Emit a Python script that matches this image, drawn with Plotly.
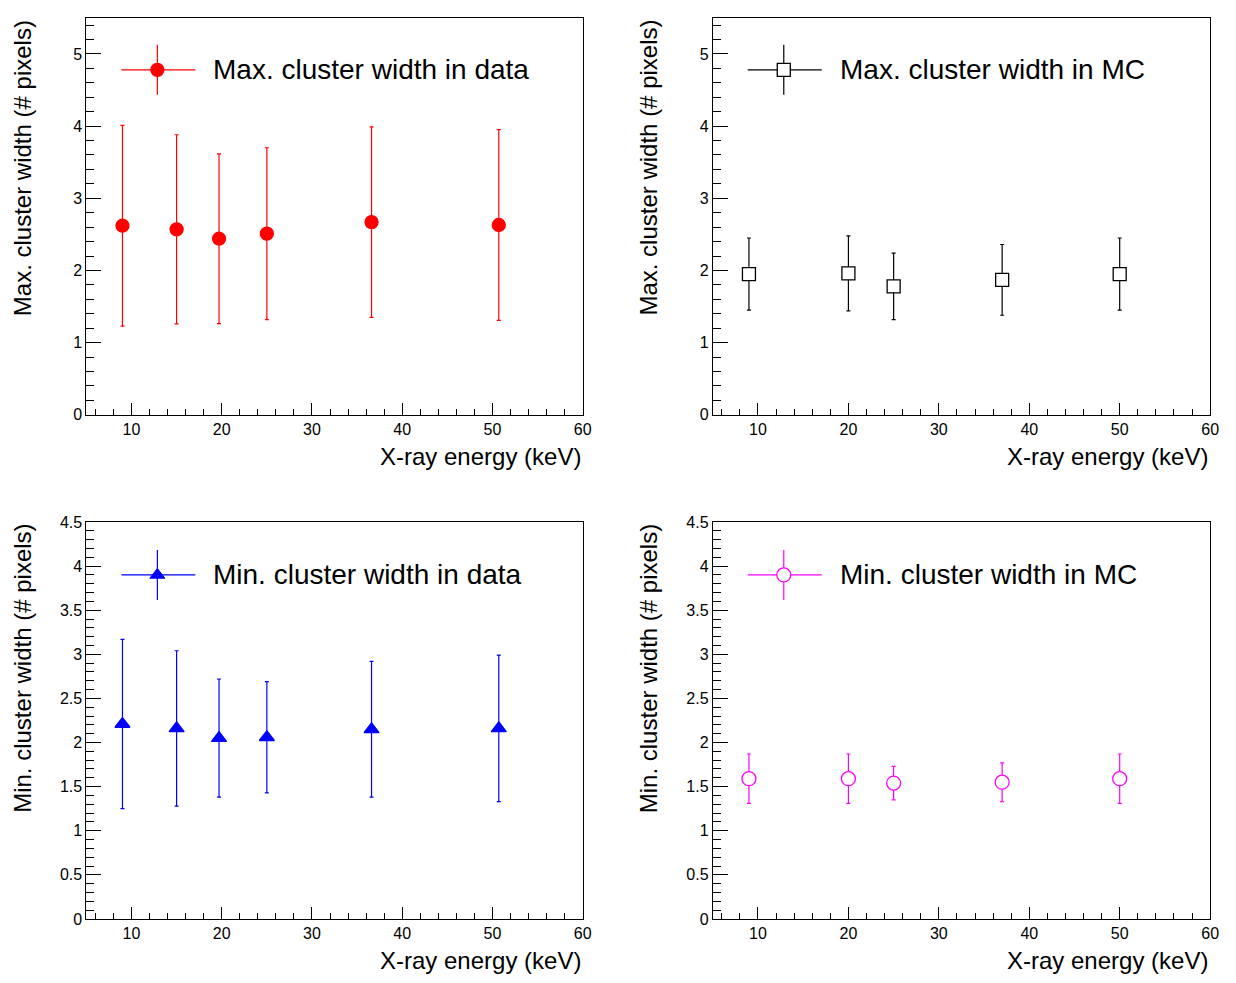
import plotly.graph_objects as go

# ---------------- data ----------------
energy_data = [9.0, 15.0, 19.7, 25.0, 36.6, 50.7]
energy_mc = [9.0, 20.0, 25.0, 37.0, 50.0]

max_width_data = [2.62, 2.57, 2.44, 2.51, 2.67, 2.63]
max_width_data_err = [1.39, 1.31, 1.175, 1.19, 1.32, 1.32]

max_width_mc = [1.95, 1.96, 1.78, 1.87, 1.95]
max_width_mc_err = [0.50, 0.52, 0.46, 0.49, 0.50]

min_width_data = [2.21, 2.16, 2.05, 2.06, 2.15, 2.16]
min_width_data_err = [0.96, 0.88, 0.67, 0.63, 0.77, 0.83]

min_width_mc = [1.59, 1.59, 1.54, 1.55, 1.59]
min_width_mc_err = [0.28, 0.28, 0.19, 0.22, 0.28]

legend_labels = ["Max. cluster width in data", "Max. cluster width in MC",
                 "Min. cluster width in data", "Min. cluster width in MC"]
y_titles = ["Max. cluster width (# pixels)", "Max. cluster width (# pixels)",
            "Min. cluster width (# pixels)", "Min. cluster width (# pixels)"]
x_title = "X-ray energy (keV)"

# ---------------- layout geometry ----------------
W, H = 1236, 983
FONT = "Liberation Sans, Arial, Helvetica, sans-serif"
RED, BLACK, BLUE, MAGENTA = "#ff0000", "#000000", "#0000ff", "#ff00ff"

panels = [
    dict(x=energy_data, y=max_width_data, e=max_width_data_err, color=RED,
         symbol="circle", fill=RED, size=13, yr=[0, 5.5], ydt=1, ymin=0.2),
    dict(x=energy_mc, y=max_width_mc, e=max_width_mc_err, color=BLACK,
         symbol="square", fill="white", size=13, yr=[0, 5.5], ydt=1, ymin=0.2),
    dict(x=energy_data, y=min_width_data, e=min_width_data_err, color=BLUE,
         symbol="triangle-up", fill=BLUE, size=13, yr=[0, 4.5], ydt=0.5, ymin=0.1),
    dict(x=energy_mc, y=min_width_mc, e=min_width_mc_err, color=MAGENTA,
         symbol="circle", fill="white", size=14, yr=[0, 4.5], ydt=0.5, ymin=0.1),
]

# pixel boxes (left, right, top, bottom)
boxes = [(87, 587, 10, 414), (718, 1219, 10, 414),
         (87, 587, 523, 927), (718, 1219, 523, 927)]

fig = go.Figure()
layout = dict(autosize=True, margin=dict(l=0, r=0, t=0, b=0, pad=0),
              paper_bgcolor="white", plot_bgcolor="white", showlegend=False,
              font=dict(family=FONT, color="black"))
annotations = []
shapes = []

for i, (p, b) in enumerate(zip(panels, boxes)):
    n = i + 1
    xa = "x" if n == 1 else f"x{n}"
    ya = "y" if n == 1 else f"y{n}"
    xkey = "xaxis" if n == 1 else f"xaxis{n}"
    ykey = "yaxis" if n == 1 else f"yaxis{n}"
    l, r, t, bt = b
    layout[xkey] = dict(
        domain=[l / W, r / W], anchor=ya, range=[5, 60],
        showline=True, mirror=True, linecolor="black", linewidth=1,
        showgrid=False, zeroline=False,
        ticks="inside", tick0=0, dtick=10, ticklen=12, tickcolor="black",
        tickfont=dict(size=16, family=FONT, color="black"),
        minor=dict(ticks="inside", dtick=2, ticklen=6, tickcolor="black", showgrid=False),
    )
    layout[ykey] = dict(
        domain=[1 - bt / H, 1 - t / H], anchor=xa, range=p["yr"],
        showline=True, mirror=True, linecolor="black", linewidth=1,
        showgrid=False, zeroline=False,
        ticks="inside", tick0=0, dtick=p["ydt"], ticklen=15, tickcolor="black",
        tickfont=dict(size=16, family=FONT, color="black"),
        minor=dict(ticks="inside", dtick=p["ymin"], ticklen=8, tickcolor="black", showgrid=False),
    )

    fig.add_trace(go.Scatter(
        x=p["x"], y=p["y"], mode="markers", xaxis=xa, yaxis=ya,
        marker=dict(symbol=p["symbol"], size=p["size"], color=p["fill"],
                    line=dict(color=p["color"], width=1.3)),
        error_y=dict(type="data", array=p["e"], visible=True, color=p["color"],
                     thickness=1.2, width=2),
    ))

    # axis titles (ROOT style: right/top aligned)
    annotations.append(dict(text=x_title, xref=f"{xa} domain", yref=f"{ya} domain",
                            x=1, y=0, xanchor="right", yanchor="middle", yshift=-42,
                            showarrow=False, font=dict(size=24, family=FONT, color="black")))
    annotations.append(dict(text=y_titles[i], xref=f"{xa} domain", yref=f"{ya} domain",
                            x=0, y=1, xanchor="center", yanchor="top", xshift=-64,
                            textangle=-90, showarrow=False,
                            font=dict(size=24, family=FONT, color="black")))

    # legend key
    cy = -52 if n <= 2 else -53
    cx = 71
    common = dict(xref=f"{xa} domain", yref=f"{ya} domain", xsizemode="pixel",
                  ysizemode="pixel", xanchor=0, yanchor=1)
    shapes.append(dict(type="line", x0=35, x1=109, y0=cy, y1=cy,
                       line=dict(color=p["color"], width=1.2), **common))
    shapes.append(dict(type="line", x0=cx, x1=cx, y0=cy + 25, y1=cy - 25,
                       line=dict(color=p["color"], width=1.2), **common))
    s = p["size"] / 2
    if p["symbol"] == "circle":
        shapes.append(dict(type="circle", x0=cx - s, x1=cx + s, y0=cy - s, y1=cy + s,
                           fillcolor=p["fill"], line=dict(color=p["color"], width=1.3),
                           **common))
    elif p["symbol"] == "square":
        shapes.append(dict(type="rect", x0=cx - s, x1=cx + s, y0=cy - s, y1=cy + s,
                           fillcolor=p["fill"], line=dict(color=p["color"], width=1.3),
                           **common))
    else:
        rt = s * 2 / 3 ** 0.5
        path = (f"M{cx - rt},{cy - s / 2} L{cx + rt},{cy - s / 2} "
                f"L{cx},{cy + s} Z")
        shapes.append(dict(type="path", path=path, fillcolor=p["fill"],
                           line=dict(color=p["color"], width=1), **common))
    annotations.append(dict(text=legend_labels[i], xref=f"{xa} domain", yref=f"{ya} domain",
                            x=0, y=1, xanchor="left", yanchor="middle",
                            xshift=125, yshift=cy, showarrow=False,
                            font=dict(size=28, family=FONT, color="black")))

layout["annotations"] = annotations
layout["shapes"] = shapes
fig.update_layout(**layout)
fig.write_html(
    "out.html",
    default_width="100vw", default_height="100vh",
    config={"responsive": True, "displayModeBar": False},
    post_script="document.documentElement.style.margin='0';"
                "document.body.style.margin='0';document.body.style.padding='0';"
                "document.documentElement.style.overflow='hidden';"
                "document.body.style.overflow='hidden';",
)
